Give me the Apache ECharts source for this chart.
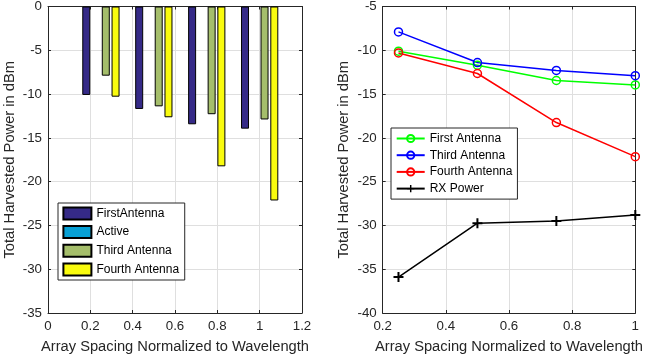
<!DOCTYPE html>
<html>
<head>
<meta charset="utf-8">
<script src="https://cdn.jsdelivr.net/npm/echarts@6/dist/echarts.min.js"></script>
<style>
  html, body { margin: 0; padding: 0; background: #fff; }
  #chart { width: 650px; height: 359px; }
</style>
</head>
<body>
<div id="chart"></div>
<script>
// array spacing (normalized to wavelength)
const spacing = [0.25, 0.5, 0.75, 1];

// harvested power, dBm
const firstAntenna = [-10.1, -11.7, -13.45, -13.95];
const activeAntenna = [0, 0, 0, 0];
const thirdAntenna = [-7.9, -11.4, -12.3, -12.9];
const fourthAntenna = [-10.3, -12.65, -18.25, -22.15];
const rxPower = [-35.9, -29.75, -29.5, -28.8];

const barNames = ['FirstAntenna', 'Active', 'Third Antenna', 'Fourth Antenna'];
const lineNames = ['First Antenna', 'Third Antenna', 'Fourth Antenna', 'RX Power'];

const ink = '#262626'
const font = 'Liberation Sans, Arial, sans-serif'

function pairs(vals) {
  return vals.map((v, i) => [spacing[i], v])
}

function xAxes(grid, min, max) {
  const base = {
    gridIndex: grid, type: 'value', min: min, max: max, interval: 0.2,
    axisLine: { onZero: false, lineStyle: { color: ink, width: 1 } },
    axisTick: { inside: true, length: 3, lineStyle: { color: ink } }
  }
  return [
    Object.assign({}, base, {
      position: 'bottom',
      name: 'Array Spacing Normalized to Wavelength',
      nameLocation: 'middle', nameGap: 26,
      nameTextStyle: { fontSize: 14.7, color: ink, fontFamily: font },
      axisLabel: { fontSize: 13.3, color: ink, margin: 7, fontFamily: font },
      splitLine: { show: true, lineStyle: { color: '#dfdfdf', width: 1 } }
    }),
    Object.assign({}, base, {
      position: 'top', axisLabel: { show: false }, splitLine: { show: false }
    })
  ]
}

function yAxes(grid, min, max) {
  const base = {
    gridIndex: grid, type: 'value', min: min, max: max, interval: 5,
    axisLine: { onZero: false, lineStyle: { color: ink, width: 1 } },
    axisTick: { inside: true, length: 3, lineStyle: { color: ink } }
  }
  return [
    Object.assign({}, base, {
      position: 'left',
      name: 'Total Harvested Power in dBm',
      nameLocation: 'middle', nameGap: 31,
      nameTextStyle: { fontSize: 14.7, color: ink, fontFamily: font },
      axisLabel: { fontSize: 13.3, color: ink, margin: 6, fontFamily: font },
      splitLine: { show: true, lineStyle: { color: '#dfdfdf', width: 1 } }
    }),
    Object.assign({}, base, {
      position: 'right', axisLabel: { show: false }, splitLine: { show: false }
    })
  ]
}

const barColors = ['#352a87', '#07a0d5', '#a5be6b', '#f9fb0e']
const barData = [firstAntenna, activeAntenna, thirdAntenna, fourthAntenna]

const barSeries = barNames.map((name, i) => ({
  name: name,
  type: 'bar',
  xAxisIndex: 0,
  yAxisIndex: 0,
  data: pairs(barData[i]),
  barWidth: 8,
  barGap: '22%',
  itemStyle: { color: barColors[i], borderColor: '#000', borderWidth: 1 },
  animation: false
}))

const lineColors = ['#00ff00', '#0000ff', '#ff0000', '#000000']
const lineData = [firstAntenna, thirdAntenna, fourthAntenna, rxPower]
const plusPath = 'path://M4,0H6V4H10V6H6V10H4V6H0V4H4Z'

// right plot names get a prefix so they do not clash with the bar legend
const lineSeries = lineNames.map((name, i) => {
  const isRx = i === 3
  return {
    name: 'R:' + name,
    type: 'line',
    xAxisIndex: 2,
    yAxisIndex: 2,
    data: pairs(lineData[i]),
    symbol: isRx ? plusPath : 'circle',
    symbolSize: isRx ? 10 : 8,
    showAllSymbol: true,
    lineStyle: { color: lineColors[i], width: 1.5 },
    itemStyle: isRx
      ? { color: '#000', borderWidth: 0 }
      : { color: 'rgba(255,255,255,0)', borderColor: lineColors[i], borderWidth: 1.5 },
    animation: false
  }
})

const chart = echarts.init(document.getElementById('chart'))
chart.setOption({
  backgroundColor: '#fff',
  textStyle: { fontFamily: font },
  grid: [
    { left: 48, right: 348, top: 4.5, bottom: 44.3 },
    { left: 382.7, right: 14.7, top: 4.3, bottom: 44.3 }
  ],
  xAxis: xAxes(0, 0, 1.2).concat(xAxes(1, 0.2, 1)),
  yAxis: yAxes(0, -35, 0).concat(yAxes(1, -40, -5)),
  legend: [
    {
      data: barNames,
      icon: 'rect',
      orient: 'vertical',
      left: 58, top: 203,
      itemWidth: 28, itemHeight: 12, itemGap: 4.7,
      padding: [3.4, 5.6, 3.5, 4.4],
      backgroundColor: '#fff', borderColor: ink, borderWidth: 1, borderRadius: 0,
      selectedMode: false,
      textStyle: { fontSize: 12, lineHeight: 12, color: '#000', fontFamily: font }
    },
    {
      data: lineNames.map(n => 'R:' + n),
      orient: 'vertical',
      left: 391, top: 128,
      itemWidth: 28, itemHeight: 9, itemGap: 4.7,
      padding: [4.5, 5, 4.5, 4.7],
      backgroundColor: '#fff', borderColor: ink, borderWidth: 1, borderRadius: 0,
      selectedMode: false,
      formatter: name => name.replace('R:', ''),
      textStyle: { fontSize: 12, lineHeight: 12, color: '#000', fontFamily: font }
    }
  ],
  series: barSeries.concat(lineSeries)
})
</script>
</body>
</html>
